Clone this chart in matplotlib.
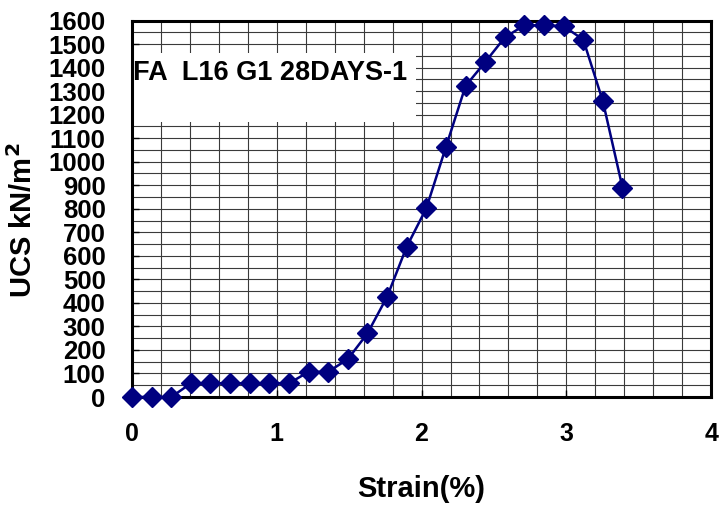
import matplotlib
matplotlib.use("Agg")
import matplotlib.pyplot as plt
from matplotlib.patches import Rectangle
import numpy as np

strain = [0.0, 0.136, 0.271, 0.407, 0.542, 0.678, 0.813, 0.949, 1.084, 1.22,
          1.355, 1.491, 1.626, 1.762, 1.897, 2.033, 2.168, 2.304, 2.439, 2.575,
          2.71, 2.846, 2.981, 3.117, 3.252, 3.388]
ucs = [0, 0, 0, 58, 58, 58, 58, 58, 58, 107,
       107, 161, 270, 426, 638, 802, 1062, 1322, 1423, 1528,
       1580, 1579, 1576, 1519, 1258, 890]

x_ticks = [0, 1, 2, 3, 4]
y_ticks = list(range(0, 1601, 100))
title_text = "FA  L16 G1 28DAYS-1"

plt.rcParams['font.family'] = ['Liberation Sans', 'DejaVu Sans']

fig = plt.figure(figsize=(7.19, 5.08), dpi=100)
ax = fig.add_axes([0.1836, 0.2185, 0.989 - 0.1836, 0.9596 - 0.2185])

ax.set_xlim(0, 4)
ax.set_ylim(0, 1600)
ax.set_xticks(np.arange(0, 4.001, 0.2), minor=True)
ax.set_yticks(np.arange(0, 1601, 50), minor=True)
ax.set_xticks(x_ticks)
ax.set_yticks(y_ticks)
ax.set_xticklabels([str(v) for v in x_ticks], fontsize=18, fontweight='bold')
ax.set_yticklabels([str(v) for v in y_ticks], fontsize=18.5, fontweight='bold')
ax.tick_params(axis='both', which='major', direction='in', length=5, width=1, pad=18)
ax.tick_params(axis='y', which='major', pad=19)
ax.tick_params(axis='both', which='minor', length=0)
ax.grid(True, which='both', color='#3a3a3a', linewidth=0.8)
ax.set_axisbelow(True)

for s in ax.spines.values():
    s.set_linewidth(2.2)
    s.set_color('black')

# label box
box = Rectangle((0, 1168), 1.96, 294, facecolor='white', edgecolor='none', zorder=2)
ax.add_patch(box)
ax.text(0.005, 1375, title_text, fontsize=19.5, fontweight='bold', va='center', ha='left', zorder=3)

ax.plot(strain, ucs, color='#000080', linewidth=1.8, marker='D', markersize=10.5,
        markerfacecolor='#000080', markeredgecolor='#000080', zorder=4, clip_on=False)

ax.set_xlabel('Strain(%)', fontsize=21, fontweight='bold', labelpad=21)
ax.set_ylabel('UCS kN/m$^\\mathbf{2}$', fontsize=21, fontweight='bold')
ax.yaxis.set_label_coords(-0.163, 0.47)

fig.savefig('out.png', dpi=100)
